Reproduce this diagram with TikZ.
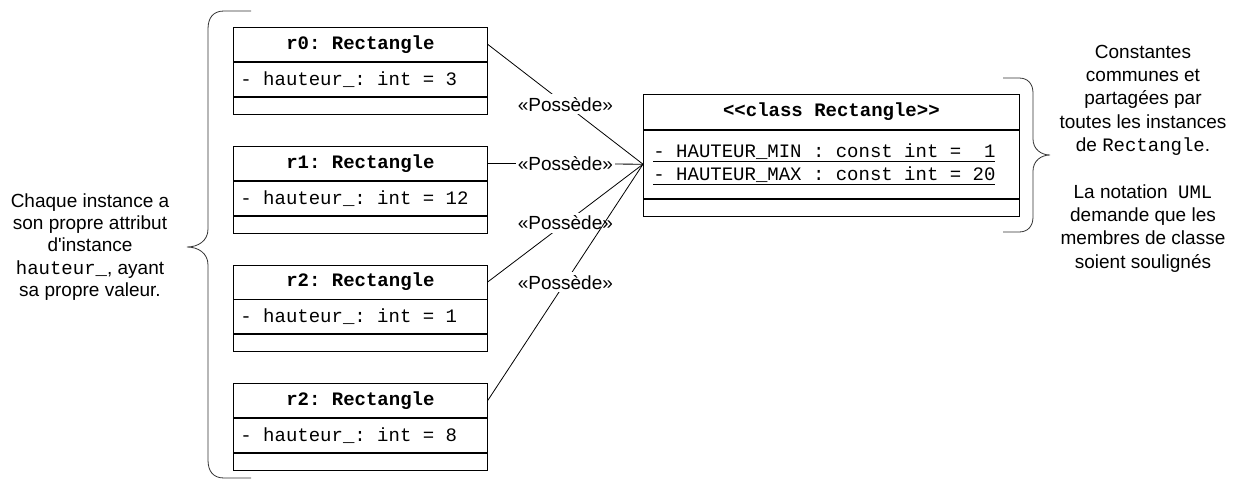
\documentclass[tikz,border=0pt]{standalone}
\usepackage{fontspec}
\setmainfont{Liberation Sans}
\setsansfont{Liberation Sans}
\setmonofont{Liberation Mono}
\begin{document}
\begin{tikzpicture}[x=1pt,y=-1pt]
\tikzset{
  ln/.style={draw=black, line width=0.8pt},
  objhead/.style={ln, anchor=north west, minimum width=254pt, minimum height=34pt,
    inner sep=0pt, font=\fontsize{19}{22}\ttfamily\bfseries},
  objattr/.style={ln, anchor=north west, minimum width=254pt, minimum height=34pt,
    text width=240pt, inner xsep=7pt, inner ysep=0pt, align=flush left,
    font=\fontsize{19}{22}\ttfamily},
  objempty/.style={ln, anchor=north west, minimum width=254pt, minimum height=17pt, inner sep=0pt},
  clshead/.style={ln, anchor=north west, minimum width=376pt, minimum height=35pt,
    inner sep=0pt, font=\fontsize{19}{22}\ttfamily\bfseries},
  clsattr/.style={ln, anchor=north west, minimum width=376pt, minimum height=68pt,
    text width=356pt, inner xsep=10pt, inner ysep=0pt, align=flush left,
    font=\fontsize{19}{23}\ttfamily},
  clsempty/.style={ln, anchor=north west, minimum width=376pt, minimum height=17pt, inner sep=0pt},
  conn/.style={draw=black, line width=0.8pt},
  lbl/.style={midway, fill=white, inner xsep=2pt, inner ysep=3pt, font=\fontsize{19}{22}\selectfont},
  brace/.style={draw=black!80, line width=0.8pt},
  notel/.style={align=center, font=\fontsize{19}{22.3}\selectfont},
  noter/.style={align=center, font=\fontsize{19}{23.3}\selectfont},
}
\useasboundingbox (0,0) rectangle (1243,482);

% instance objects
\node[objhead] (r0h) at (233,27) {r0: Rectangle};
\node[objattr] (r0a) at (r0h.south west) {- hauteur\_: int = 3};
\node[objempty] (r0e) at (r0a.south west) {};

\node[objhead] (r1h) at (233,146) {r1: Rectangle};
\node[objattr] (r1a) at (r1h.south west) {- hauteur\_: int = 12};
\node[objempty] (r1e) at (r1a.south west) {};

\node[objhead] (r2h) at (233,264.5) {r2: Rectangle};
\node[objattr] (r2a) at (r2h.south west) {- hauteur\_: int = 1};
\node[objempty] (r2e) at (r2a.south west) {};

\node[objhead] (r3h) at (233,383) {r2: Rectangle};
\node[objattr] (r3a) at (r3h.south west) {- hauteur\_: int = 8};
\node[objempty] (r3e) at (r3a.south west) {};

% class box with underlined (static) members
\node[clshead] (clsh) at (643,94) {<{}<class Rectangle>{}>};
\node[clsattr] (clsa) at (clsh.south west)
  {\underline{- HAUTEUR\_MIN : const int = \ 1}\\\underline{- HAUTEUR\_MAX : const int = 20}};
\node[clsempty] (clse) at (clsa.south west) {};
\coordinate (hub) at (clsa.west);

% ownership links
\draw[conn] (r0h.east) -- node[lbl] (p0) {«Possède»} (hub);
\draw[conn] (r1h.east) -- node[lbl] (p1) {«Possède»} (hub);
\draw[conn] (r2h.east) -- node[lbl] (p2) {«Possède»} (hub);
\draw[conn] (r3h.east) -- node[lbl] (p3) {«Possède»} (hub);

% braces
\draw[brace] (251,11) -- (224,11) .. controls (213,11) and (208,18) .. (208,29)
  -- (208,229) .. controls (208,241) and (198,247) .. (187,247)
  .. controls (198,247) and (208,253) .. (208,265)
  -- (208,460) .. controls (208,471) and (213,478) .. (224,478) -- (251,478);
\draw[brace] (1003,78) -- (1019,78) .. controls (1028,78) and (1033,84) .. (1033,93)
  -- (1033,139) .. controls (1033,149) and (1041,155) .. (1050,155)
  .. controls (1041,155) and (1033,161) .. (1033,171)
  -- (1033,217) .. controls (1033,226) and (1028,232) .. (1019,232) -- (1003,232);

% notes
\node[notel] (nl) at (90,247) {Chaque instance a\\son propre attribut\\d\textquotesingle instance\\
  \texttt{hauteur\_}, ayant\\sa propre valeur.};
\node[noter] (nr) at (1143,158.5) {Constantes\\communes et\\partagées par\\toutes les instances\\
  de \texttt{Rectangle}.\\[23.3pt]La notation\ \ \texttt{UML}\\demande que les\\membres de classe\\soient soulignés};
\end{tikzpicture}
\end{document}
